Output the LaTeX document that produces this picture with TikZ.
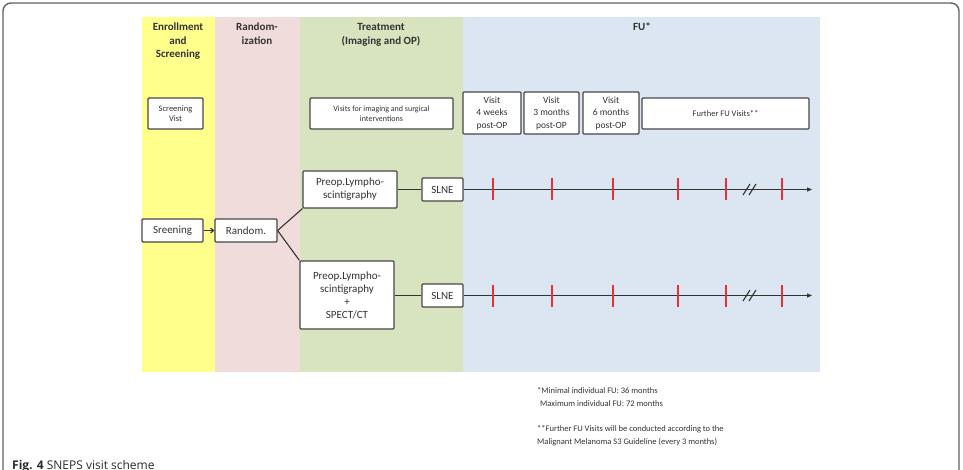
\documentclass[tikz,border=0pt]{standalone}
\usepackage{fontspec}
\setmainfont{Carlito}
\newfontfamily\capfont{Open Sans}
\usepackage{tikz}
\usetikzlibrary{arrows.meta,positioning,calc}
\definecolor{phEnrol}{HTML}{FFFF8C}
\definecolor{phRand}{HTML}{F0DCDB}
\definecolor{phTreat}{HTML}{D8E4BF}
\definecolor{phFU}{HTML}{DCE6F2}
\definecolor{txtDark}{HTML}{333333}
\definecolor{tickRed}{HTML}{E8303A}

\tikzset{
  visitbox/.style={draw=txtDark!90, line width=1.2pt, fill=white, rounded corners=1pt,
    align=center, inner sep=0pt, text=txtDark, font={\fontsize{8.5}{10}\selectfont}},
  flowbox/.style={draw=txtDark!90, line width=1.2pt, fill=white, rounded corners=1pt,
    align=center, inner sep=0pt, text=txtDark, font={\fontsize{11}{13}\selectfont}},
  phasehead/.style={anchor=base, align=center, text=txtDark, font={\bfseries\fontsize{11}{13.5}\selectfont}},
  link/.style={draw=txtDark, line width=1.1pt},
  tline/.style={draw=txtDark, line width=1pt, -{Triangle[length=5pt,width=4pt]}},
}

\begin{document}
\begin{tikzpicture}[x=1pt, y=-1pt]
  \useasboundingbox (0,0) rectangle (963,470);
  % frame of the figure
  \begin{scope}
    \clip (0,0) rectangle (963,470);
    \draw[gray!75!black, line width=1.4pt, rounded corners=8pt] (3,3) rectangle (959,520);
  \end{scope}

  % phases
  \fill[phEnrol] (142,17) rectangle (215,372);
  \fill[phRand]  (215,17) rectangle (300,372);
  \fill[phTreat] (300,17) rectangle (463,372);
  \fill[phFU]    (463,17) rectangle (820,372);
  % (base = last line)
  \node[phasehead] (hEnrol) at (178,58) {Enrollment\\and\\Screening};
  \node[phasehead] (hRand)  at (257,44.5) {Random-\\ization};
  \node[phasehead] (hTreat) at (381,44.5) {Treatment\\(Imaging and OP)};
  \node[phasehead] (hFU)    at (642,31) {FU*};

  % visits
  \node[visitbox, minimum width=55pt, minimum height=31pt] (scrvis) at (175.5,113.5) {Screening\\Vist};
  \node[visitbox, minimum width=143pt, minimum height=31pt, font={\fontsize{8}{10}\selectfont}] (imgvis) at (381.5,113.5) {Visits for imaging and surgical\\interventions};
  \node[visitbox, minimum width=58pt, minimum height=42pt, font={\fontsize{9.5}{12.5}\selectfont}] (vA) at (492,113) {Visit\\4 weeks\\post-OP};
  \node[visitbox, minimum width=55pt, minimum height=42pt, font={\fontsize{9.5}{12.5}\selectfont}] (vB) at (551.5,113) {Visit\\3 months\\post-OP};
  \node[visitbox, minimum width=56pt, minimum height=42pt, font={\fontsize{9.5}{12.5}\selectfont}] (vC) at (611,113) {Visit\\6 months\\post-OP};
  \node[visitbox, minimum width=167pt, minimum height=31pt] (vFurther) at (725.5,113.5) {Further FU Visits**};

  % flow
  \node[flowbox, minimum width=61pt, minimum height=23pt] (scr) at (172.5,230.5) {Sreening};
  \node[flowbox, minimum width=62pt, minimum height=23pt] (rnd) at (246,230.5) {Random.};
  \node[flowbox, minimum width=94pt, minimum height=37pt] (preA) at (350,189.5) {Preop.Lympho-\\scintigraphy};
  \node[flowbox, minimum width=94pt, minimum height=68pt] (preB) at (347,295) {Preop.Lympho-\\scintigraphy\\+\\SPECT/CT};
  \node[flowbox, minimum width=41pt, minimum height=23pt] (slA) at (442.5,189.5) {SLNE};
  \node[flowbox, minimum width=41pt, minimum height=23pt] (slB) at (442.5,295.5) {SLNE};

  \draw[link, -{Straight Barb[length=3pt,width=5pt]}] (scr) -- (rnd);
  \draw[link] (rnd.east) -- (preA.south west);
  \draw[link] (rnd.east) -- (preB.north west);
  \draw[link] (preA) -- (slA);
  \draw[link] (preB.east |- slB) -- (slB);

  % time lines
  \coordinate (endA) at (812,189.5);
  \coordinate (endB) at (812,295.5);
  \draw[tline] (slA) -- (endA);
  \draw[tline] (slB) -- (endB);
  \foreach \t in {493,552,613,678,726,782} {
    \draw[tickRed, line width=1.4pt] (\t,178.5) -- (\t,200.5);
    \draw[tickRed, line width=1.4pt] (\t,284.5) -- (\t,306.5);
  }
  \foreach \yy in {189.5,295.5} {
    \draw[txtDark, line width=1.1pt] (743,\yy+5.5) -- (750,\yy-5.5);
    \draw[txtDark, line width=1.1pt] (749,\yy+5.5) -- (756,\yy-5.5);
  }

  % notes
  \node[anchor=base west, align=left, inner sep=0pt, text=txtDark,
        font={\fontsize{8.5}{13}\selectfont}] (notes) at (537,444)
    {*Minimal individual FU: 36 months\\
     \hspace*{3pt}Maximum individual FU: 72 months\\[12pt]
     **Further FU Visits will be conducted according to the\\
     Malignant Melanoma S3 Guideline (every 3 months)};

  \node[anchor=base west, inner sep=0pt, font={\capfont\fontsize{12}{14}\selectfont}, text=txtDark!80!black] (caption) at (12,469)
    {\textbf{Fig. 4} SNEPS visit scheme};
\end{tikzpicture}
\end{document}
